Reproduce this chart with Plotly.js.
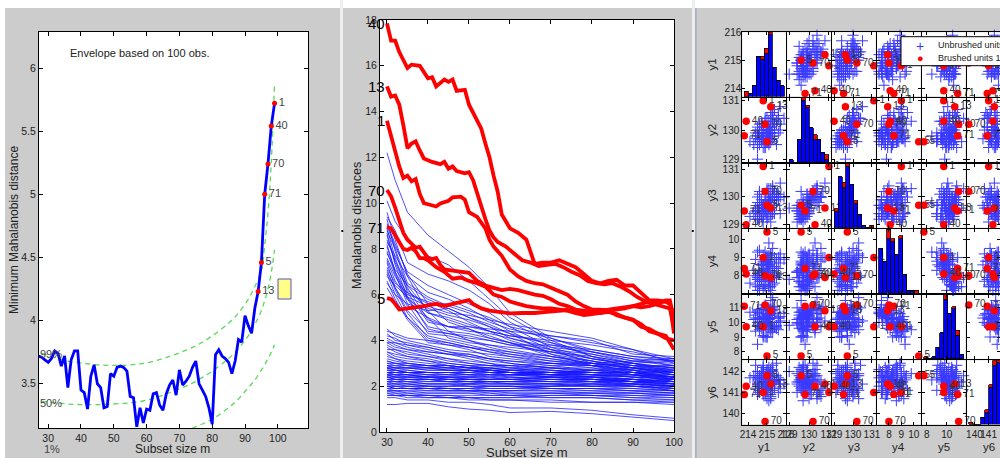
<!DOCTYPE html>
<html><head><meta charset="utf-8">
<script src="https://cdn.plot.ly/plotly-3.0.1.min.js"></script>
<style>html,body{margin:0;padding:0;background:#fff;}#chart{width:1000px;height:458px;}</style>
</head><body><div id="chart"></div>
<script>
// ================= DATA =================
// Left panel: minimum Mahalanobis distance monitoring
const mMin = [27,28,29,30,31,32,33,34,35,36,37,38,39,40,41,42,43,44,45,46,47,48,49,50,51,52,53,54,55,56,57,58,59,60,61,62,63,64,65,66,67,68,69,70,71,72,73,74,75,76,77,78,79,80,81,82,83,84,85,86,87,88,89,90,91,92,93,94,95,96,97,98,99];
const minMD = [3.72,3.71,3.69,3.67,3.70,3.76,3.74,3.64,3.72,3.47,3.69,3.76,3.76,3.45,3.43,3.30,3.56,3.65,3.50,3.47,3.31,3.32,3.58,3.56,3.63,3.64,3.63,3.60,3.40,3.39,3.16,3.31,3.19,3.30,3.29,3.42,3.43,3.33,3.29,3.42,3.49,3.53,3.41,3.61,3.49,3.52,3.56,3.63,3.68,3.50,3.45,3.40,3.31,3.18,3.73,3.77,3.72,3.70,3.67,3.58,3.68,3.85,3.83,4.04,3.96,3.90,4.10,4.23,4.46,5.00,5.24,5.54,5.72];
const envM  = [28,32,36,40,45,50,55,60,65,70,75,80,85,88,91,93,95,96,97,98,99];
const env99 = [3.74,3.71,3.68,3.665,3.65,3.645,3.65,3.665,3.70,3.745,3.80,3.88,3.98,4.06,4.17,4.27,4.40,4.60,4.85,5.25,5.87];
const env50 = [3.36,3.35,3.34,3.335,3.335,3.34,3.35,3.37,3.41,3.46,3.52,3.60,3.70,3.78,3.88,3.97,4.08,4.16,4.25,4.38,4.56];
const env01 = [2.99,2.99,2.99,3.00,3.00,3.01,3.02,3.04,3.07,3.11,3.16,3.22,3.31,3.38,3.47,3.53,3.61,3.65,3.70,3.75,3.81];
const outM = [94,95,96,97,98,99];
const outUnits = ['13','5','71','70','40','1'];

// Middle panel: Mahalanobis distances monitoring
const mdM = [30,32,35,40,45,50,55,60,70,80,90,100];
const blueMD = [
[12.2,11.0,9.6,8.6,7.9,7.2,6.3,5.2,4.1,3.5,3.1,2.9],
[10.1,9.2,8.4,7.7,7.3,6.6,5.8,5.0,4.0,3.3,2.8,2.5],
[9.4,8.8,7.4,6.9,6.6,6.2,5.6,4.8,3.9,3.5,3.2,3.1],
[9.0,8.1,7.0,6.4,6.0,5.6,5.2,4.6,3.7,3.2,2.9,2.6],
[8.8,8.0,6.5,5.9,5.5,5.2,4.8,4.5,4.1,3.6,3.3,3.2],
[8.6,7.4,6.2,5.4,5.1,4.9,4.6,4.3,3.8,3.4,3.0,2.8],
[8.3,7.7,6.8,6.1,5.8,5.4,4.9,4.4,3.6,3.0,2.6,2.4],
[8.1,7.0,6.0,5.7,5.3,4.8,4.4,4.0,3.5,3.1,2.7,2.3],
[7.8,7.1,6.4,5.8,5.4,5.0,4.7,4.3,3.4,2.9,2.5,2.2],
[7.5,6.6,5.8,5.2,4.9,4.6,4.4,4.2,3.9,3.3,3.0,2.7],
[7.2,6.5,6.1,5.6,5.6,5.3,5.0,4.6,4.2,4.0,3.4,3.3],
[7.0,6.3,5.5,5.0,4.6,4.5,4.2,3.9,3.3,3.0,2.8,2.6],
[6.8,6.4,5.9,5.5,5.2,5.1,4.9,4.7,4.4,4.1,3.6,3.0],
[6.5,6.0,5.6,5.3,5.4,5.0,4.6,4.1,3.6,3.2,2.9,2.7],
[9.6,8.4,6.8,5.2,5.0,4.7,4.4,4.2,4.0,3.8,3.5,3.1],
[9.3,7.9,6.3,4.9,4.6,4.4,4.3,4.1,3.7,3.5,3.2,2.9],
[9.1,8.2,6.9,5.6,4.8,4.5,4.1,3.9,3.4,3.1,2.9,2.8],
[8.9,7.6,6.1,4.8,4.6,4.6,4.5,4.4,4.2,3.9,3.6,3.2],
[8.7,7.3,5.9,4.5,4.3,4.2,4.0,3.8,3.5,3.3,3.0,2.6],
[8.4,7.5,6.4,5.3,4.4,4.0,3.8,3.6,3.3,3.0,2.8,2.5],
[8.2,7.0,5.8,4.6,4.4,4.3,4.1,3.9,3.6,3.4,3.1,3.0],
[7.9,6.9,5.6,4.3,4.2,4.0,3.7,3.5,3.2,2.9,2.7,2.4],
[7.6,6.8,5.9,5.0,4.1,3.9,3.8,3.7,3.5,3.2,3.0,2.8],
[7.4,6.3,5.3,4.4,4.3,4.1,4.0,3.8,3.8,3.6,3.3,3.1],
[7.1,6.2,5.2,4.1,3.9,3.7,3.5,3.4,3.1,2.9,2.6,2.3],
[6.9,6.0,5.0,4.2,4.0,3.8,3.6,3.5,3.3,3.1,2.8,2.6],
[6.6,5.8,4.9,3.9,3.8,3.7,3.5,3.3,3.0,2.8,2.5,2.2],
[6.3,5.7,5.0,4.0,3.8,3.6,3.3,3.2,3.0,2.9,2.7,2.5],
[4.5,4.2,4.0,3.8,3.6,3.5,3.4,3.3,3.1,3.0,2.8,2.7],
[4.4,4.3,4.1,4.0,3.9,3.7,3.6,3.4,3.2,3.0,2.9,2.9],
[4.3,4.0,3.9,3.7,3.5,3.4,3.2,3.1,2.9,2.7,2.5,2.3],
[4.2,4.1,3.8,3.6,3.4,3.3,3.2,3.0,2.8,2.6,2.4,2.1],
[4.1,3.9,3.8,3.7,3.5,3.3,3.1,3.0,2.8,2.7,2.6,2.4],
[4.0,3.8,3.6,3.5,3.4,3.4,3.2,3.1,3.0,2.9,2.8,2.6],
[3.9,3.7,3.6,3.4,3.2,3.1,3.0,2.9,2.7,2.5,2.3,2.0],
[3.9,3.9,3.7,3.5,3.4,3.2,3.0,2.8,2.6,2.4,2.2,1.9],
[3.8,3.6,3.5,3.3,3.2,3.0,2.9,2.8,2.7,2.6,2.5,2.3],
[3.7,3.5,3.3,3.2,3.0,2.9,2.8,2.7,2.5,2.4,2.2,2.1],
[3.6,3.6,3.4,3.3,3.1,3.0,2.9,2.9,2.8,2.7,2.6,2.4],
[3.5,3.3,3.2,3.1,3.0,2.9,2.7,2.6,2.5,2.3,2.1,1.8],
[3.5,3.4,3.3,3.1,2.9,2.8,2.7,2.6,2.4,2.3,2.2,2.0],
[3.4,3.2,3.1,3.0,2.9,2.8,2.8,2.7,2.6,2.5,2.4,2.3],
[3.3,3.2,3.0,2.9,2.8,2.7,2.6,2.5,2.4,2.2,2.0,1.8],
[3.2,3.1,3.0,2.9,2.9,2.8,2.7,2.6,2.5,2.4,2.3,2.2],
[3.1,3.0,3.0,2.9,2.9,2.8,2.8,2.7,2.7,2.6,2.6,2.5],
[3.0,2.9,2.9,2.8,2.8,2.7,2.7,2.7,2.6,2.6,2.5,2.4],
[2.9,2.9,2.8,2.8,2.7,2.7,2.6,2.6,2.5,2.5,2.4,2.3],
[2.9,2.8,2.7,2.6,2.6,2.6,2.7,2.7,2.8,2.8,2.7,2.6],
[2.8,2.8,2.8,2.7,2.7,2.6,2.5,2.5,2.4,2.4,2.3,2.2],
[2.8,2.7,2.6,2.6,2.5,2.5,2.5,2.4,2.4,2.3,2.3,2.1],
[2.7,2.7,2.6,2.5,2.5,2.4,2.4,2.4,2.3,2.3,2.2,2.2],
[2.7,2.6,2.6,2.6,2.6,2.5,2.6,2.6,2.6,2.7,2.7,2.8],
[2.6,2.6,2.5,2.5,2.4,2.4,2.3,2.3,2.2,2.2,2.1,2.0],
[2.6,2.5,2.5,2.4,2.4,2.4,2.4,2.5,2.5,2.5,2.4,2.4],
[2.5,2.5,2.5,2.4,2.4,2.3,2.3,2.3,2.4,2.4,2.5,2.5],
[2.5,2.4,2.4,2.3,2.3,2.3,2.2,2.2,2.1,2.1,2.0,1.9],
[2.5,2.5,2.4,2.4,2.3,2.2,2.2,2.1,2.1,2.0,2.0,1.9],
[2.4,2.4,2.3,2.3,2.3,2.3,2.3,2.3,2.4,2.4,2.3,2.3],
[2.4,2.3,2.3,2.2,2.2,2.2,2.1,2.1,2.1,2.0,2.0,1.9],
[2.3,2.3,2.3,2.3,2.2,2.2,2.2,2.2,2.3,2.3,2.2,2.1],
[2.3,2.2,2.2,2.1,2.1,2.1,2.0,2.0,1.9,1.9,1.8,1.7],
[2.2,2.2,2.2,2.1,2.1,2.1,2.2,2.2,2.2,2.3,2.3,2.2],
[2.2,2.1,2.1,2.0,2.0,2.0,1.9,1.9,1.9,1.8,1.8,1.7],
[2.1,2.1,2.0,2.0,2.0,2.1,2.1,2.1,2.0,2.0,1.9,1.8],
[2.1,2.0,2.0,1.9,1.9,1.9,1.8,1.8,1.8,1.7,1.7,1.6],
[2.0,2.0,2.0,2.0,1.9,1.9,1.9,1.9,2.0,2.0,2.1,2.1],
[2.0,1.9,1.9,1.8,1.8,1.8,1.8,1.7,1.7,1.7,1.6,1.5],
[1.9,1.9,1.9,1.9,1.8,1.8,1.8,1.8,1.8,1.8,1.7,1.6],
[1.9,1.8,1.8,1.7,1.7,1.7,1.7,1.6,1.6,1.6,1.5,1.4],
[1.8,1.8,1.7,1.7,1.7,1.7,1.6,1.6,1.7,1.7,1.7,1.7],
[1.8,1.7,1.7,1.6,1.6,1.6,1.6,1.6,1.5,1.5,1.4,1.3],
[1.7,1.7,1.6,1.6,1.6,1.5,1.5,1.5,1.5,1.5,1.4,1.4],
[1.6,1.6,1.6,1.5,1.5,1.5,1.4,1.4,1.3,1.3,1.3,1.2],
[1.5,1.5,1.4,1.4,1.3,1.3,1.2,1.05,1.05,0.95,0.75,0.6],
[1.2,1.2,1.25,1.25,1.1,1.0,0.95,0.85,0.9,0.8,0.65,0.5],
[2.8,2.7,2.7,2.6,2.6,2.5,2.4,2.3,2.3,2.2,2.1,2.0],
[2.6,2.6,2.6,2.5,2.5,2.5,2.5,2.5,2.6,2.6,2.6,2.6],
[2.4,2.4,2.4,2.4,2.4,2.4,2.5,2.5,2.5,2.6,2.6,2.7],
[2.2,2.2,2.1,2.1,2.1,2.0,2.0,2.0,2.0,2.1,2.1,2.0],
[2.0,2.0,1.9,1.9,1.9,1.8,1.8,1.8,1.9,1.9,1.9,1.8],
[3.0,3.0,2.9,2.9,2.8,2.8,2.8,2.8,2.9,2.9,3.0,3.1],
[2.9,2.8,2.8,2.7,2.7,2.7,2.6,2.6,2.6,2.7,2.8,2.9],
[2.7,2.7,2.6,2.6,2.6,2.6,2.6,2.5,2.5,2.5,2.5,2.4],
[2.3,2.3,2.2,2.2,2.2,2.1,2.1,2.1,2.1,2.2,2.2,2.3],
[1.7,1.6,1.6,1.6,1.5,1.5,1.5,1.5,1.6,1.6,1.5,1.5],
[2.1,2.1,2.1,2.0,2.0,2.0,2.0,2.0,1.9,1.9,1.8,1.8],
[2.5,2.4,2.4,2.4,2.3,2.3,2.3,2.4,2.3,2.3,2.2,2.2],
[3.1,3.0,2.9,2.8,2.7,2.7,2.7,2.6,2.6,2.5,2.5,2.4],
[2.6,2.5,2.5,2.4,2.4,2.3,2.3,2.3,2.2,2.2,2.2,2.1],
[2.0,1.9,1.9,1.9,1.9,1.9,2.0,2.0,2.0,2.1,2.0,2.0],
[1.8,1.8,1.8,1.8,1.8,1.8,1.7,1.7,1.7,1.6,1.6,1.6],
[2.8,2.8,2.8,2.8,2.8,2.9,2.9,2.9,3.0,3.0,3.1,3.2],
[2.4,2.3,2.3,2.3,2.2,2.2,2.2,2.2,2.2,2.1,2.1,2.0],
[1.6,1.6,1.5,1.5,1.5,1.4,1.4,1.4,1.4,1.3,1.3,1.3]
];
const redUnits = ['40','13','1','70','71','5'];
const redM = [
[30,31,32,33,35,36,38,40,41,42,44,45,46,47,49,50,52,53,54,55,56,57,58,60,62,64,66,68,70,72,74,76,78,80,82,84,86,88,90,92,94,96,98,99,100],
[30,31,32,33,34,35,36,37,38,39,41,43,44,45,46,47,49,50,51,52,53,54,55,56,57,59,61,63,65,67,69,71,73,75,77,79,81,83,85,87,89,91,93,95,97,99,100],
[30,31,32,33,34,35,36,37,38,39,40,42,43,45,46,48,49,50,52,54,55,56,58,60,62,64,66,68,70,72,74,76,78,80,82,84,86,88,90,92,94,96,98,100],
[30,31,32,33,34,35,36,37,38,40,41,42,43,44,46,48,50,52,54,56,58,60,62,64,66,68,70,72,74,76,78,80,82,84,86,88,90,92,94,96,98,100],
[30,31,32,33,34,35,36,37,38,39,40,42,44,46,48,50,52,54,56,58,60,62,64,66,68,70,72,74,76,78,80,82,84,86,88,90,92,94,96,98,99,100],
[30,31,32,33,35,37,39,42,44,46,48,50,51,53,55,57,60,63,66,69,72,74,76,78,80,82,84,86,88,90,92,94,96,98,99,100]
];
const redMD = [
[17.85,17.1,17.1,16.6,15.9,16.05,16.0,15.45,15.5,15.1,15.4,15.3,15.4,14.9,14.95,14.3,13.6,13.25,12.6,12.0,11.2,10.5,9.5,8.9,8.7,8.4,7.35,7.4,7.4,7.5,7.35,7.2,6.9,6.6,6.5,6.6,6.65,6.4,6.4,6.05,5.75,5.75,5.7,5.6,5.1],
[15.1,14.65,14.7,14.3,13.4,12.4,12.6,12.7,12.3,11.95,11.8,11.7,11.8,11.5,11.6,11.4,11.3,11.35,11.0,10.4,9.8,9.3,8.8,8.5,8.3,8.1,7.8,7.5,7.4,7.25,7.3,7.35,7.2,7.0,6.85,6.6,6.5,6.45,6.5,6.35,6.15,5.9,5.7,5.6,5.5,5.4,4.6],
[13.6,12.9,12.2,11.6,11.1,11.2,10.95,11.05,10.4,10.0,9.95,9.85,9.98,10.1,10.25,10.28,10.15,9.6,9.4,8.9,8.4,8.1,7.7,7.1,6.8,6.6,6.5,6.45,6.3,6.15,6.0,5.7,5.5,5.35,5.35,5.3,5.1,5.0,4.9,4.7,4.4,4.3,4.2,3.6],
[10.57,10.3,9.8,9.2,8.7,8.4,8.2,8.05,8.1,7.6,7.55,7.6,7.3,7.1,7.05,7.0,6.95,6.6,6.4,6.3,6.2,6.25,6.2,6.1,6.0,5.95,5.8,5.6,5.5,5.35,5.3,5.25,5.2,5.25,5.15,5.0,4.9,4.6,4.5,4.3,4.1,4.0],
[8.95,8.9,8.6,8.3,8.0,7.95,8.05,7.9,7.6,7.6,7.5,7.2,7.0,6.7,6.75,6.6,6.5,6.35,6.0,5.9,5.7,5.6,5.5,5.45,5.4,5.4,5.35,5.3,5.2,5.15,5.2,5.3,5.35,5.4,5.45,5.5,5.45,5.5,5.6,5.75,5.75,4.9],
[5.85,5.8,5.6,5.35,5.4,5.47,5.5,5.6,5.5,5.6,5.7,5.76,5.6,5.4,5.3,5.25,5.18,5.2,5.2,5.25,5.3,5.33,5.2,5.11,5.15,5.2,5.3,5.35,5.4,5.5,5.6,5.7,5.7,5.7,5.6,4.3]
];

// Right panel: scatter matrix (Swiss banknotes, genuine notes)
const varNames = ['y1','y2','y3','y4','y5','y6'];
const y1 = [214.8,214.6,214.8,214.8,215.0,215.7,215.5,214.5,214.9,215.2,215.3,215.1,215.2,214.7,215.1,214.5,214.6,215.0,215.2,214.7,215.0,215.6,215.3,215.7,215.1,215.3,215.5,215.1,215.1,214.8,215.2,214.8,215.0,215.6,215.9,214.6,215.5,215.3,215.3,213.9,214.4,214.8,214.9,214.9,214.8,214.3,214.8,214.8,214.6,214.5,214.6,215.3,214.5,215.4,214.5,215.2,215.7,215.0,215.1,215.1,215.1,215.3,215.4,214.5,215.0,215.2,214.6,214.8,215.1,214.9,213.8,215.2,215.0,214.4,215.2,214.1,214.9,214.6,215.2,214.6,215.1,214.9,215.2,215.2,215.4,215.1,215.2,215.0,214.9,215.0,214.7,215.4,214.9,214.5,214.7,215.6,215.0,214.4,215.1,214.7];
const y2 = [131.0,129.7,129.7,129.7,129.6,130.8,129.5,129.6,129.4,130.4,130.4,129.5,130.8,129.7,129.9,129.8,129.9,129.9,129.6,130.2,129.9,130.5,130.6,130.2,129.7,130.4,130.2,130.3,130.0,129.7,130.1,129.7,130.0,130.4,130.4,130.2,130.3,129.9,130.3,130.3,129.8,130.1,129.6,130.4,129.4,129.5,129.9,129.9,129.7,129.0,129.8,130.6,130.1,130.2,129.4,129.7,130.0,129.6,130.1,130.0,129.6,129.7,129.8,130.0,130.0,130.6,129.5,129.7,129.6,130.2,129.8,129.9,129.6,129.9,129.9,129.6,129.9,129.8,130.5,129.9,129.7,129.8,129.7,130.1,130.7,129.9,129.9,129.6,130.3,129.9,129.7,130.0,129.4,129.5,129.6,129.9,130.4,129.7,130.0,130.0];
const y3 = [131.1,129.7,129.7,129.6,129.7,130.5,129.7,129.2,129.7,130.3,130.3,129.6,129.6,129.7,129.7,129.8,130.1,129.7,129.6,129.9,129.3,130.0,130.0,130.0,129.9,130.4,130.1,130.3,130.0,129.3,129.8,129.7,129.6,130.1,130.0,130.2,130.0,129.4,130.1,129.0,129.2,129.6,129.4,129.7,129.1,129.4,129.7,129.7,129.8,129.6,129.4,130.0,130.0,130.2,129.5,129.4,129.4,129.4,129.9,129.8,129.3,129.4,129.4,129.5,129.8,130.0,129.2,129.3,129.8,130.2,129.5,129.5,130.2,129.6,129.7,129.3,130.1,129.4,129.8,129.4,129.7,129.6,129.1,129.9,130.2,129.6,129.7,129.2,129.9,129.7,129.3,129.9,129.5,129.3,129.5,129.9,130.3,129.5,129.8,129.4];
const y4 = [9.0,8.1,8.7,7.5,10.4,9.0,7.9,7.2,8.2,9.2,7.9,7.7,7.9,7.7,7.7,9.3,8.2,9.0,7.4,8.6,8.4,8.1,8.4,8.7,7.4,8.0,8.9,9.8,7.4,8.3,7.9,8.6,7.7,8.4,8.9,9.4,8.4,7.9,8.5,8.1,8.9,8.8,9.3,9.0,8.2,8.3,8.3,7.3,7.9,7.8,7.2,9.5,7.8,7.6,7.9,9.2,9.2,8.8,7.9,8.2,8.3,7.5,8.0,8.0,8.6,8.8,7.7,9.1,8.6,8.0,8.4,8.2,8.7,7.5,7.2,7.6,8.8,7.4,7.9,7.9,8.6,7.5,9.0,7.9,9.0,8.9,8.7,8.4,7.4,8.0,8.6,8.5,8.2,7.4,8.3,9.0,9.1,8.0,9.1,7.8];
const y5 = [9.7,9.5,9.6,10.4,7.7,10.1,9.6,10.7,11.0,10.0,11.7,10.5,10.8,10.9,10.8,8.5,9.8,9.0,11.5,10.0,10.0,10.3,10.8,10.0,10.8,11.0,9.8,9.5,10.5,9.0,10.7,9.1,10.5,10.3,10.6,9.7,9.7,10.0,9.3,9.7,9.4,9.9,9.0,9.8,10.2,10.2,10.2,10.9,10.3,9.8,10.0,9.7,10.9,10.9,10.0,9.4,10.4,9.0,11.0,10.3,9.9,10.5,10.6,10.8,10.6,10.6,10.3,9.5,9.8,11.2,11.1,10.3,10.0,10.5,10.6,10.7,10.0,10.6,10.9,10.0,10.3,10.3,9.7,10.8,11.1,10.2,9.5,10.2,11.2,10.5,9.6,9.7,9.9,10.7,10.0,9.5,10.2,10.3,10.2,10.0];
const y6 = [141.0,141.7,142.2,142.0,141.8,141.4,141.6,141.7,141.9,140.7,141.8,142.2,141.4,141.7,141.8,141.6,141.7,141.9,141.5,141.9,141.4,141.6,141.5,141.6,141.1,142.3,142.4,141.9,141.8,142.0,141.8,142.3,140.7,141.0,141.4,141.8,141.8,142.0,142.1,141.3,142.3,140.9,141.7,140.9,141.0,141.8,141.5,142.0,141.1,142.0,141.3,141.1,140.9,141.6,141.4,142.0,141.2,141.1,141.3,141.4,141.6,141.5,141.5,141.4,141.5,140.8,141.3,141.5,141.8,139.6,140.9,141.4,141.2,141.8,142.1,141.7,141.2,141.0,140.9,141.8,140.6,141.0,141.9,141.3,141.2,141.5,141.6,142.1,141.5,142.0,141.6,141.4,141.5,141.5,142.0,141.7,141.1,141.2,141.5,141.2];
const brushed = [1,5,13,40,70,71];
const legendLabels = ['Unbrushed units','Brushed units 1'];

// ================= DRAWING =================
const FONT = 'Liberation Sans, Arial, Helvetica, sans-serif';
const W = 1000, H = 458;
const px = v => v / W;
const py = v => 1 - v / H;
const TXT = '#222';

function ax(extra) {
  return Object.assign({
    showline: true, linecolor: '#000', linewidth: 1, mirror: 'ticks',
    ticks: 'inside', ticklen: 4, tickcolor: '#000', tickwidth: 1, tickangle: 0,
    showgrid: false, zeroline: false, fixedrange: true,
    tickfont: {family: FONT, size: 10.5, color: TXT}
  }, extra);
}

const traces = [];
const layout = {
  width: W, height: H, margin: {l: 0, r: 0, t: 0, b: 0},
  paper_bgcolor: '#cccccc', plot_bgcolor: '#ffffff',
  showlegend: false, hovermode: false, barmode: 'stack', bargap: 0,
  font: {family: FONT, color: TXT},
  shapes: [], annotations: []
};

// ---------- Left panel ----------
layout.xaxis = ax({domain: [px(39), px(308)], range: [27.2, 109.2], tick0: 0, dtick: 10, anchor: 'y'});
layout.yaxis = ax({domain: [py(428), py(32)], range: [3.15, 6.285], tick0: 0, dtick: 0.5, anchor: 'x'});
[env01, env50, env99].forEach(env => {
  traces.push({type: 'scatter', mode: 'lines', x: envM, y: env, xaxis: 'x', yaxis: 'y',
    line: {color: '#5ad85a', width: 1.3, dash: '5px,4px', shape: 'spline'}, hoverinfo: 'skip'});
});
traces.push({type: 'scatter', mode: 'lines', x: mMin, y: minMD, xaxis: 'x', yaxis: 'y',
  line: {color: '#0000ff', width: 2.8}, hoverinfo: 'skip'});
traces.push({type: 'scatter', mode: 'markers+text', x: outM, y: outM.map(m => minMD[mMin.indexOf(m)]),
  text: outUnits, textposition: 'middle right', xaxis: 'x', yaxis: 'y', cliponaxis: false,
  marker: {color: '#ff0000', size: 5}, textfont: {family: FONT, size: 11, color: '#444'}, hoverinfo: 'skip'});

const ann = (x, y, text, o) => layout.annotations.push(Object.assign({xref: 'paper', yref: 'paper', x: px(x), y: py(y),
  text: text, showarrow: false, font: {family: FONT, size: 11, color: TXT}, xanchor: 'center', yanchor: 'middle'}, o || {}));

ann(68, 53, 'Envelope based on 100 obs.', {xanchor: 'left'});
ann(37.5, 354, '99%', {xanchor: 'left', font: {family: FONT, size: 11, color: '#444'}});
ann(37.5, 403, '50%', {xanchor: 'left', font: {family: FONT, size: 11, color: '#444'}});
ann(41.5, 449, '1%', {xanchor: 'left', font: {family: FONT, size: 11, color: '#444'}});
ann(14, 230, 'Minimum Mahalanobis distance', {textangle: -90, font: {family: FONT, size: 12, color: TXT}});
ann(172, 449, 'Subset size m', {font: {family: FONT, size: 12, color: TXT}});

// yellow slider box + panel separators
layout.shapes.push({type: 'rect', xref: 'paper', yref: 'paper', x0: px(278), x1: px(291), y0: py(299), y1: py(279),
  fillcolor: '#ffff88', line: {color: '#5555bb', width: 1}, layer: 'above'});
layout.shapes.push({type: 'rect', xref: 'paper', yref: 'paper', x0: 0, x1: 1, y0: py(8), y1: 1, fillcolor: '#ffffff', line: {width: 0}, layer: 'below'});
layout.shapes.push({type: 'rect', xref: 'paper', yref: 'paper', x0: 0, x1: px(5), y0: 0, y1: 1, fillcolor: '#ffffff', line: {width: 0}, layer: 'below'});
layout.shapes.push({type: 'rect', xref: 'paper', yref: 'paper', x0: px(340), x1: px(343), y0: 0, y1: 1, fillcolor: '#eeeeee', line: {width: 0}, layer: 'below'});
layout.shapes.push({type: 'rect', xref: 'paper', yref: 'paper', x0: px(692), x1: px(695), y0: 0, y1: 1, fillcolor: '#eeeeee', line: {width: 0}, layer: 'below'});
layout.shapes.push({type: 'rect', xref: 'paper', yref: 'paper', x0: px(695.3), x1: px(696.5), y0: 0, y1: py(8), fillcolor: '#97a6bb', line: {width: 0}, layer: 'below'});
[[341.3, 230], [691.8, 230]].forEach(([x, y]) => layout.shapes.push({type: 'rect', xref: 'paper', yref: 'paper',
  x0: px(x), x1: px(x + 2), y0: py(y + 2), y1: py(y), fillcolor: '#111', line: {width: 0}, layer: 'above'}));

// ---------- Middle panel ----------
layout.xaxis2 = ax({domain: [px(380), px(674)], range: [28.3, 100], tick0: 0, dtick: 10, anchor: 'y2'});
layout.yaxis2 = ax({domain: [py(432), py(20)], range: [0, 18], tick0: 0, dtick: 2, anchor: 'x2'});
blueMD.forEach(row => traces.push({type: 'scatter', mode: 'lines', x: mdM, y: row, xaxis: 'x2', yaxis: 'y2',
  line: {color: '#1414ff', width: 0.75}, hoverinfo: 'skip'}));
redMD.forEach((row, i) => {
  traces.push({type: 'scatter', mode: 'lines', x: redM[i], y: row, xaxis: 'x2', yaxis: 'y2',
    line: {color: '#ff0000', width: 3.8}, hoverinfo: 'skip'});
  layout.annotations.push({xref: 'x2', yref: 'y2', x: redM[i][0], y: row[0], text: redUnits[i], showarrow: false,
    xanchor: 'right', yanchor: 'middle', font: {family: FONT, size: 15, color: '#000'}});
});
ann(357, 226, 'Mahalanobis distances', {textangle: -90, font: {family: FONT, size: 12.5, color: TXT}});
ann(527, 452, 'Subset size m', {font: {family: FONT, size: 13, color: TXT}});

// ---------- Right panel: scatter matrix ----------
const data = [y1, y2, y3, y4, y5, y6];
const isBr = i => brushed.includes(i + 1);
const rng = data.map(v => { const mn = Math.min(...v), mx = Math.max(...v), d = (mx - mn) * 0.05; return [mn - d, mx + d]; });
const xdt = [1, 1, 1, 1, 2, 1];
const CX0 = 742.3, CPX = 44.9, CW = 43.7, CY0 = 32.3, CPY = 65.6, CH = 64.2;
function histOf(v) {
  const mn = Math.min(...v), mx = Math.max(...v), w = (mx - mn) / 10;
  const cb = Array(10).fill(0), cr = Array(10).fill(0);
  v.forEach((val, i) => { let k = Math.floor((val - mn) / w + 1e-9); if (k > 9) k = 9; (isBr(i) ? cr : cb)[k]++; });
  const centers = cb.map((_, k) => mn + w * (k + 0.5));
  return {centers, cb, cr, w, max: Math.max(...cb.map((c, k) => c + cr[k]))};
}
const idxB = [], idxR = [];
y1.forEach((_, i) => (isBr(i) ? idxR : idxB).push(i));

for (let r = 0; r < 6; r++) {
  for (let c = 0; c < 6; c++) {
    const k = 3 + r * 6 + c;
    const x0 = CX0 + c * CPX, x1 = Math.min(x0 + CW, W);
    const frac = (x1 - x0) / CW;
    const xr = [rng[c][0], rng[c][0] + (rng[c][1] - rng[c][0]) * frac];
    const yt = CY0 + r * CPY, yb = yt + CH;
    layout['xaxis' + k] = ax({domain: [px(x0), px(x1)], range: xr, tick0: 0, dtick: xdt[c], anchor: 'y' + k,
      ticklen: 3, showticklabels: r === 5, tickfont: {family: FONT, size: 10, color: TXT}});
    if (r !== c) {
      layout['yaxis' + k] = ax({domain: [py(yb), py(yt)], range: rng[r], tick0: 0, dtick: 1, anchor: 'x' + k,
        ticklen: 3, showticklabels: c === 0, tickfont: {family: FONT, size: 10, color: TXT}});
      traces.push({type: 'scatter', mode: 'markers', x: idxB.map(i => data[c][i]), y: idxB.map(i => data[r][i]),
        xaxis: 'x' + k, yaxis: 'y' + k, cliponaxis: false, hoverinfo: 'skip',
        marker: {symbol: 'cross-thin-open', size: 8, color: '#3a3aff', line: {color: '#3a3aff', width: 1}}});
      traces.push({type: 'scatter', mode: 'markers+text', x: idxR.map(i => data[c][i]), y: idxR.map(i => data[r][i]),
        text: idxR.map(i => String(i + 1)), textposition: 'middle right', xaxis: 'x' + k, yaxis: 'y' + k,
        cliponaxis: false, hoverinfo: 'skip', marker: {color: '#ff0000', size: 7.5},
        textfont: {family: FONT, size: 10, color: '#333'}});
    } else {
      const h = histOf(data[r]);
      layout['yaxis' + k] = ax({domain: [py(yb), py(yt)], range: [0, h.max], anchor: 'x' + k,
        ticks: '', mirror: true, showticklabels: false});
      traces.push({type: 'bar', x: h.centers, y: h.cb, width: h.w, xaxis: 'x' + k, yaxis: 'y' + k, hoverinfo: 'skip',
        marker: {color: '#0000ff', line: {color: '#000', width: 0.8}}});
      traces.push({type: 'bar', x: h.centers, y: h.cr, width: h.w, xaxis: 'x' + k, yaxis: 'y' + k, hoverinfo: 'skip',
        marker: {color: '#ff0000', line: {color: '#000', width: 0.8}}});
    }
  }
  ann(712, CY0 + r * CPY + CH / 2, varNames[r], {textangle: -90, font: {family: FONT, size: 11.5, color: TXT}});
  ann(CX0 + r * CPX + CW / 2, 447, varNames[r], {font: {family: FONT, size: 11.5, color: TXT}});
}
// tick labels of y1 on the first (histogram) cell
layout.yaxis39 = ax({overlaying: 'y3', anchor: 'x3', side: 'left', range: rng[0], tick0: 0, dtick: 1,
  showline: false, mirror: false, ticks: 'inside', ticklen: 3, tickfont: {family: FONT, size: 10, color: TXT}});
traces.push({type: 'scatter', mode: 'markers', x: [null], y: [null], xaxis: 'x3', yaxis: 'y39', hoverinfo: 'skip'});

// legend box (cut by the window edge as in the original)
layout.shapes.push({type: 'rect', xref: 'paper', yref: 'paper', x0: px(901), x1: px(1010), y0: py(65.7), y1: py(36.7),
  fillcolor: '#ffffff', line: {color: '#000', width: 1}, layer: 'above'});
ann(920, 45.5, '+', {font: {family: FONT, size: 14, color: '#3a3aff'}});
ann(920, 58, '●', {font: {family: FONT, size: 11, color: '#ff0000'}});
ann(936, 45, legendLabels[0], {xanchor: 'left', font: {family: FONT, size: 9, color: TXT}});
ann(936, 58, legendLabels[1], {xanchor: 'left', font: {family: FONT, size: 9, color: TXT}});

Plotly.newPlot('chart', traces, layout, {staticPlot: true, displayModeBar: false});
</script>
</body></html>
